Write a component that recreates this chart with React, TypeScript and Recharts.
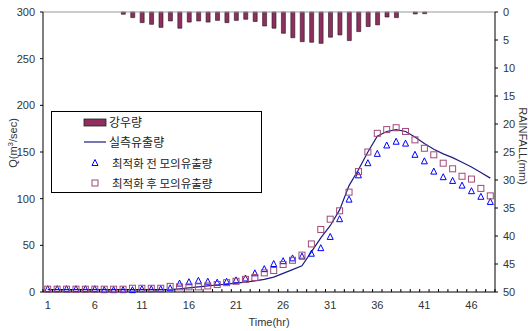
import React from "react";
import { ComposedChart, Bar, Line, XAxis, YAxis, ReferenceLine, Legend, Label } from "recharts";

const hours = [1, 2, 3, 4, 5, 6, 7, 8, 9, 10, 11, 12, 13, 14, 15, 16, 17, 18, 19, 20, 21, 22, 23, 24, 25, 26, 27, 28, 29, 30, 31, 32, 33, 34, 35, 36, 37, 38, 39, 40, 41, 42, 43, 44, 45, 46, 47, 48];

// rainfall (mm), hangs from the top on the reversed right axis
const rainfall = [0, 0, 0, 0, 0, 0, 0, 0, 0.4, 1.0, 1.9, 2.2, 2.75, 1.6, 2.9, 1.8, 1.6, 1.8, 1.5, 1.9, 1.5, 1.3, 1.7, 2.5, 2.9, 3.8, 4.6, 5.3, 5.4, 5.6, 4.5, 4.1, 5.1, 3.5, 2.6, 2.3, 0.9, 1.0, 0, 0.35, 0.3, 0, 0, 0, 0, 0, 0, 0];

// observed runoff
const observed = [2.5, 2.5, 2.5, 2.5, 2.5, 2.5, 2.5, 2.5, 2.5, 2.5, 2.5, 2.5, 2.5, 2.5, 3.5, 4.5, 5.5, 6.5, 7.5, 8.5, 9.5, 10.5, 12, 13.5, 16, 20, 24, 28, 43, 58, 71, 88, 114, 131, 150, 167, 172, 174, 172, 166, 159, 153, 148, 144, 139, 134, 128, 122];

// simulated before optimisation
const before = [3, 3, 3, 3, 3, 3, 2, 2, 2, 2, 3, 3, 3, 4, 9, 10.5, 12, 11, 10, 11, 12.5, 14.5, 20, 24.5, 30, 33, 36, 38, 41, 47, 59, 78, 99, 125, 138, 148, 157, 161, 159, 147, 140, 129, 123, 119, 114, 108, 102, 96.5];

// simulated after optimisation
const after = [3, 3, 3, 3, 3, 3, 3, 3, 3, 4, 4, 4, 4, 6, 5.5, 5.5, 5.5, 6.5, 8, 10, 11.5, 13.5, 15.5, 20.5, 23, 29.5, 34, 39.5, 51.5, 67, 78, 87, 107, 129, 150, 170, 174, 176, 172, 163, 154, 147, 138, 132, 124, 121, 111, 103];

const qTicks = [0, 50, 100, 150, 200, 250, 300];
const rainTicks = [0, 5, 10, 15, 20, 25, 30, 35, 40, 45, 50];

const legendNames = ["강우량", "실측유출량", "최적화 전 모의유출량", "최적화 후 모의유출량"];

const data = hours.map((t, i) => ({
  t,
  rain: rainfall[i],
  obs: observed[i],
  pre: before[i],
  post: after[i],
}));

const BAR = "#8e2f5e";
const NAVY = "#1c1c84";
const BLUE = "#0000ff";
const SQ = "#a04a76";
const TXT = "#333";
const FONT = "'Liberation Sans', Arial, sans-serif";
const KFONT = "'Noto Sans CJK KR', sans-serif";
const STEP = 452 / 48;

const Triangle = (p: any) => {
  const { cx, cy, key } = p;
  if (cx == null || cy == null) return <g key={key} />;
  return (
    <polygon
      key={key}
      points={`${cx},${cy - 3.5} ${cx - 3},${cy + 2.5} ${cx + 3},${cy + 2.5}`}
      fill="none"
      stroke={BLUE}
      strokeWidth={1}
    />
  );
};

const Square = (p: any) => {
  const { cx, cy, key } = p;
  if (cx == null || cy == null) return <g key={key} />;
  return <rect key={key} x={cx - 3} y={cy - 3} width={6} height={6} fill="none" stroke={SQ} strokeWidth={1} />;
};

const XTick = (p: any) => {
  const { x, y, payload } = p;
  const v = payload.value;
  return (
    <g>
      <line x1={x - STEP / 2} x2={x - STEP / 2} y1={y - 3} y2={y} stroke="#000" />
      {v === hours[hours.length - 1] && <line x1={x + STEP / 2} x2={x + STEP / 2} y1={y - 3} y2={y} stroke="#000" />}
      {(v - 1) % 5 === 0 && (
        <text x={x} y={y + 17} textAnchor="middle" fontSize={11} fill={TXT} fontFamily={FONT}>
          {v}
        </text>
      )}
    </g>
  );
};

const LegendBox = () => (
  <svg width={212} height={83} style={{ display: "block" }}>
    <rect x={0.5} y={0.5} width={210} height={81} fill="#fff" stroke="#000" />
    <rect x={33} y={8} width={22} height={7} fill={BAR} stroke="#222" strokeWidth={0.8} />
    <text x={58} y={16} fontSize={12} fill="#222" fontFamily={KFONT}>{legendNames[0]}</text>
    <line x1={33} x2={55} y1={31} y2={31} stroke={NAVY} strokeWidth={1.2} />
    <text x={58} y={36} fontSize={12} fill="#222" fontFamily={KFONT}>{legendNames[1]}</text>
    <polygon points="44,48.5 41,54.5 47,54.5" fill="none" stroke={BLUE} />
    <text x={61} y={57} fontSize={11.5} fill="#222" fontFamily={KFONT}>{legendNames[2]}</text>
    <rect x={41} y={69} width={6} height={6} fill="none" stroke={SQ} />
    <text x={61} y={77} fontSize={11.5} fill="#222" fontFamily={KFONT}>{legendNames[3]}</text>
  </svg>
);

const QLabel = () => (
  <text transform="translate(17,143) rotate(-90)" textAnchor="middle" fontSize={11} fill={TXT} fontFamily={FONT}>
    Q(m<tspan fontSize={8} dy={-4}>3</tspan>
    <tspan dy={4}>/sec)</tspan>
  </text>
);

const RainLabel = () => (
  <text transform="translate(519,146) rotate(90)" textAnchor="middle" fontSize={11} fill={TXT} fontFamily={FONT}>
    RAINFALL(mm)
  </text>
);

export default function App() {
  return (
    <div style={{ position: "absolute", left: 0, top: 0, width: 528, height: 331, background: "#fff" }}>
      <ComposedChart width={528} height={331} data={data} margin={{ top: 12, right: 0, bottom: 0, left: 0 }}>
        <XAxis
          dataKey="t"
          xAxisId="x"
          interval={0}
          height={39}
          tickLine={false}
          tickSize={0}
          tickMargin={0}
          tick={<XTick />}
          axisLine={{ stroke: "#000" }}
        >
          <Label value="Time(hr)" position="insideBottom" offset={5} fontSize={11} fill={TXT} fontFamily={FONT} />
        </XAxis>
        <YAxis
          yAxisId="q"
          width={43}
          domain={[0, 300]}
          ticks={qTicks}
          tickSize={3}
          tickMargin={5}
          tick={{ fontSize: 11, fill: TXT, fontFamily: FONT }}
          axisLine={{ stroke: "#000" }}
          tickLine={{ stroke: "#000" }}
          label={<QLabel />}
        />
        <YAxis
          yAxisId="rain"
          orientation="right"
          width={33}
          reversed
          domain={[0, 50]}
          ticks={rainTicks}
          tickSize={3}
          tickMargin={5}
          tick={{ fontSize: 11, fill: TXT, fontFamily: FONT, textAnchor: "start" }}
          axisLine={{ stroke: "#000" }}
          tickLine={{ stroke: "#000" }}
          label={<RainLabel />}
        />
        <ReferenceLine yAxisId="q" xAxisId="x" y={300} stroke="#999" />
        <Bar
          xAxisId="x"
          yAxisId="rain"
          dataKey="rain"
          barSize={4}
          fill={BAR}
          stroke="#2a1020"
          strokeWidth={0.6}
          isAnimationActive={false}
        />
        <Line
          xAxisId="x"
          yAxisId="q"
          type="linear"
          dataKey="obs"
          stroke={NAVY}
          strokeWidth={1.2}
          dot={false}
          activeDot={false}
          isAnimationActive={false}
        />
        <Line
          xAxisId="x"
          yAxisId="q"
          dataKey="pre"
          stroke="none"
          dot={Triangle}
          activeDot={false}
          isAnimationActive={false}
        />
        <Line
          xAxisId="x"
          yAxisId="q"
          dataKey="post"
          stroke="none"
          dot={Square}
          activeDot={false}
          isAnimationActive={false}
        />
        <Legend
          layout="vertical"
          align="center"
          verticalAlign="middle"
          content={<LegendBox />}
          wrapperStyle={{ left: 51, top: 111, width: 212, height: 83 }}
        />
      </ComposedChart>
    </div>
  );
}
